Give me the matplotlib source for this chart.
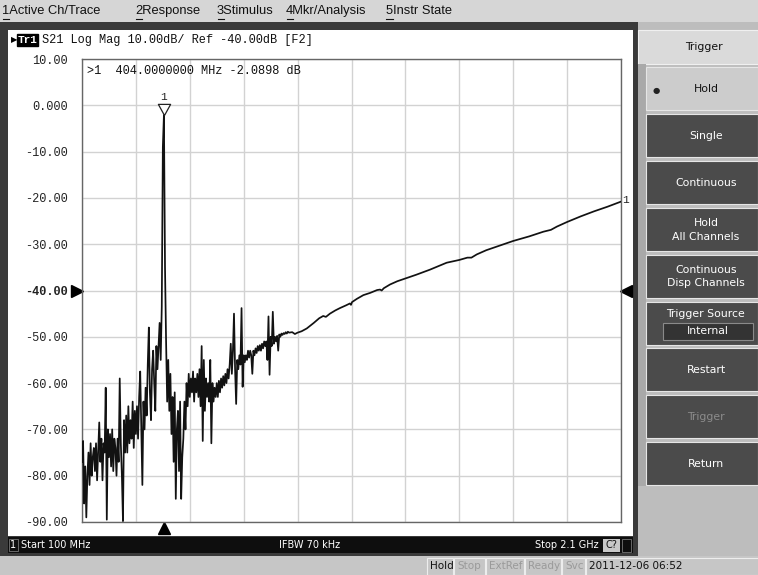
import numpy as np
import matplotlib
matplotlib.use('Agg')
import matplotlib.pyplot as plt
import matplotlib.transforms as mtransforms
from matplotlib.patches import Rectangle

# Sweep settings
start_mhz = 100
stop_mhz = 2100
ref_level = -40.0
scale_div = 10.0

# Noisy part of the trace, one point every 4 MHz from 100 MHz to 868 MHz
noisy_step = 4
noisy_db = [
    -77, -72.5, -86, -78, -89, -80, -75, -82, -73, -80,
    -76, -74, -79, -73, -81, -75, -68.5, -77, -72, -81,
    -73, -75, -61, -89.5, -70, -76, -71, -78, -70, -79,
    -72, -74, -80, -72, -77, -59, -73, -80, -89.8, -68,
    -75, -67, -75, -65, -73, -68, -72, -64, -74, -66,
    -71, -65, -72, -63, -57.5, -70, -82, -64, -70, -61,
    -67, -56, -48, -62, -68, -57, -53, -60, -66, -52,
    -57, -52, -47, -55, -43.5, -9, -2.0898, -35, -51, -64,
    -55, -66, -58, -71, -63, -77, -62, -85, -70, -66,
    -79, -64, -85, -76, -72, -64, -70, -60, -65, -58,
    -63, -59, -62, -57.5, -64, -59, -62, -58, -63, -57,
    -65, -52, -72.5, -55, -66, -59, -63, -60, -64, -55,
    -73, -60, -64, -61, -63, -60, -63, -59.5, -62, -59,
    -61, -58.5, -60.5, -58, -60, -57, -59, -56, -51.5, -58,
    -53, -45, -57, -64.5, -55, -57, -54, -56, -43.8, -60.8,
    -54, -55.5, -54, -55, -53, -54.5, -53, -54, -58, -53,
    -54, -52.5, -53.5, -52, -53, -51.8, -53, -51.5, -52.5, -51,
    -52, -51, -55, -45.6, -58.2, -50, -52, -44.6, -51.5, -50,
    -51, -49.8, -53, -49.5, -50, -49.3, -49.6, -49.2, -49.4, -49.0,
    -49.3, -48.9, -49.1,
]

# Smooth upper part of the trace
smooth_mhz = [880, 890, 900, 915, 934, 960, 980, 995, 1005, 1020, 1040, 1057,
              1080, 1094, 1098, 1102, 1120, 1144, 1170, 1195, 1206, 1212, 1220,
              1243, 1270, 1300, 1340, 1391, 1420, 1453, 1500, 1530, 1545, 1565,
              1600, 1650, 1700, 1760, 1812, 1840, 1862, 1900, 1950, 2000, 2050, 2100]
smooth_db = [-49.0, -49.4, -49.1, -48.8, -48.2, -47.0, -46.0, -45.5, -45.7, -45.0,
             -44.3, -43.8, -43.2, -42.8, -43.1, -42.5, -41.8, -41.0, -40.5, -39.9,
             -39.8, -40.0, -39.5, -38.7, -38.0, -37.4, -36.6, -35.5, -34.8, -34.0,
             -33.4, -32.9, -32.9, -32.2, -31.3, -30.3, -29.3, -28.3, -27.3, -26.9,
             -26.2, -25.2, -24.0, -22.9, -21.9, -20.8]

marker_mhz = 404.0
marker_db = -2.0898

ytick_labels = ['10.00', '0.000', '-10.00', '-20.00', '-30.00', '-40.00',
                '-50.00', '-60.00', '-70.00', '-80.00', '-90.00']

menu_items = ['Active Ch/Trace', 'Response', 'Stimulus', 'Mkr/Analysis', 'Instr State']
menu_x = [2, 135, 217, 286, 386]

softkey_labels = ['Hold', 'Single', 'Continuous', 'Hold\nAll Channels',
                  'Continuous\nDisp Channels', 'Trigger Source', 'Restart',
                  'Trigger', 'Return']

status_items = ['Hold', 'Stop', 'ExtRef', 'Ready', 'Svc', '2011-12-06 06:52']
status_x = [427, 454, 486, 525, 562, 586]
status_w = [26, 31, 38, 36, 23, 175]

noisy_mhz = start_mhz + noisy_step * np.arange(len(noisy_db))
freq = np.concatenate([noisy_mhz, smooth_mhz])
trace = np.concatenate([noisy_db, smooth_db])

W, H = 758, 575
fig = plt.figure(figsize=(W / 100, H / 100), dpi=100)
fig.patch.set_facecolor('#bdbdbd')

mono = ['Liberation Mono', 'DejaVu Sans Mono']
sans = ['DejaVu Sans']
menu_font = ['Liberation Sans', 'DejaVu Sans']


def box(x0, y0, x1, y1, fc, ec='none', lw=0, z=-5):
    fig.add_artist(Rectangle((x0 / W, 1 - y1 / H), (x1 - x0) / W, (y1 - y0) / H,
                             transform=fig.transFigure, facecolor=fc,
                             edgecolor=ec, linewidth=lw, zorder=z))


def label(x, y, s, **kw):
    kw.setdefault('va', 'center')
    fig.text(x / W, 1 - y / H, s, **kw)


# window frame
box(0, 0, W, 22, '#d6d6d6')
box(0, 22, 638, 556, '#3a3a3a')
box(8, 30, 633, 536, 'white')
box(8, 537, 633, 553, '#0e0e0e')
box(638, 22, W, 556, '#bdbdbd')
box(0, 556, W, H, '#c6c6c6')

# menu bar
for i, (name, x) in enumerate(zip(menu_items, menu_x)):
    label(x, 11, f'{i + 1}{name}', fontsize=9.3, family=menu_font, color='#111')
    fig.add_artist(plt.Line2D([(x + 0.5) / W, (x + 7) / W], [1 - 18.5 / H, 1 - 18.5 / H],
                              transform=fig.transFigure, color='#111', lw=0.8))

# trace header
label(11, 40, '\u25b6', fontsize=6, family=sans, color='black')
label(18, 40, 'Tr1', fontsize=8, family=mono, color='white', weight='bold',
      bbox=dict(boxstyle='square,pad=0.05', fc='black', ec='black'))
label(42, 40, f'S21 Log Mag {scale_div:.2f}dB/ Ref {ref_level:.2f}dB [F2]',
      fontsize=8.6, family=mono, color='#111')

# main plot
ax = fig.add_axes([82 / W, 1 - 522 / H, (621 - 82) / W, (522 - 59) / H])
ax.plot(freq, trace, color='#121212', lw=1.25, zorder=3)
ax.set_xlim(start_mhz, stop_mhz)
ax.set_ylim(ref_level - 5 * scale_div, ref_level + 5 * scale_div)
ax.set_xticks(np.linspace(start_mhz, stop_mhz, 11))
ax.set_yticks(np.linspace(ref_level + 5 * scale_div, ref_level - 5 * scale_div, 11))
ax.set_yticklabels(ytick_labels, family=mono, fontsize=8.6, color='#222')
ax.set_xticklabels([])
ax.tick_params(length=0, pad=10)
ax.get_yticklabels()[5].set_fontweight('bold')
ax.grid(True, color='#d2d2d2', lw=1)
ax.set_axisbelow(True)
for s in ax.spines.values():
    s.set_color('#666')
    s.set_linewidth(1)

# marker
ax.plot(marker_mhz, marker_db, marker=[(0, 0), (-0.55, 1), (0.55, 1), (0, 0)],
        ms=16, mfc='white', mec='#222', mew=0.9, zorder=5)
ax.annotate('1', (marker_mhz, marker_db), xytext=(0, 13), textcoords='offset points',
            ha='center', va='center', family=mono, fontsize=8, color='#222')
ax.annotate('1', (freq[-1], trace[-1]), xytext=(1, 1), textcoords='offset points',
            ha='left', va='center', family=mono, fontsize=8, color='#222',
            annotation_clip=False)
ax.text(0.01, 0.975, f'{">1":<4}{marker_mhz:.7f} MHz {marker_db:.4f} dB',
        transform=ax.transAxes, family=mono, fontsize=8.6, va='center', color='#111')

# reference and stimulus pointers
blend_l = mtransforms.blended_transform_factory(ax.transAxes, ax.transData)
ax.plot(0, ref_level, marker='>', ms=8, color='black', clip_on=False,
        transform=mtransforms.offset_copy(blend_l, fig=fig, x=-5, y=0, units='dots'))
ax.plot(1, ref_level, marker='<', ms=8, color='black', clip_on=False,
        transform=mtransforms.offset_copy(blend_l, fig=fig, x=5, y=0, units='dots'))
blend_b = mtransforms.blended_transform_factory(ax.transData, ax.transAxes)
ax.plot(marker_mhz, 0, marker='^', ms=8, color='black', clip_on=False,
        transform=mtransforms.offset_copy(blend_b, fig=fig, x=0, y=-6, units='dots'))

# channel status bar
label(10, 545, '1', fontsize=7, family=sans, color='white',
      bbox=dict(boxstyle='square,pad=0.15', fc='#0e0e0e', ec='#777', lw=0.6))
label(21, 545, f'Start {start_mhz} MHz', fontsize=7, family=sans, color='white')
label(310, 545, 'IFBW 70 kHz', fontsize=7, family=sans, color='white', ha='center')
label(599, 545, f'Stop {stop_mhz / 1000:.1f} GHz', fontsize=7, family=sans,
      color='white', ha='right')
box(603, 539, 620, 552, '#c8c8c8', z=-4)
label(611.5, 545, 'C?', fontsize=7, family=sans, color='#111', ha='center')
box(622, 539, 631, 552, '#0e0e0e', ec='#777', lw=0.6, z=-4)

# softkey panel
box(638, 30, W, 64, '#dadada', ec='#f0f0f0', lw=0.8, z=-4)
label(704, 47, 'Trigger', fontsize=7.8, family=sans, color='#111', ha='center')
box(638, 64, 646, 486, '#a9a9a9', z=-4)
for i, name in enumerate(softkey_labels):
    top = 67 + i * 46.9
    held = i == 0
    box(646, top, W, top + 43, '#cccccc' if held else '#4b4b4b',
        ec='#e6e6e6', lw=0.8, z=-4)
    col = '#111' if held else ('#8c8c8c' if name == 'Trigger' else 'white')
    if name == 'Trigger Source':
        label(705, top + 12, name, fontsize=7.8, family=sans, color=col, ha='center')
        box(663, top + 21, 753, top + 38, '#333333', ec='#8a8a8a', lw=0.8, z=-3)
        label(708, top + 30, 'Internal', fontsize=7.8, family=sans, color='white',
              ha='center')
    else:
        label(706, top + 22, name, fontsize=7.8, family=sans, color=col,
              ha='center', linespacing=1.45, multialignment='center')
    if held:
        label(656, top + 23, '\u25cf', fontsize=6, family=sans, color='#222',
              ha='center')

# instrument status bar
for name, x, w in zip(status_items, status_x, status_w):
    box(x, 558, x + w, 575, '#c6c6c6', ec='#ededed', lw=0.8, z=-4)
    dim = name in ('Stop', 'ExtRef', 'Ready', 'Svc')
    label(x + 3, 566, name, fontsize=7.5, family=sans,
          color='#9a9a9a' if dim else '#111')

fig.savefig('out.png', dpi=100, facecolor=fig.get_facecolor())
